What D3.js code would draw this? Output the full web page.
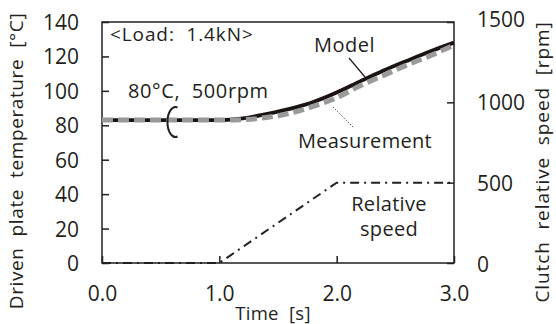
<!DOCTYPE html>
<html><head><meta charset="utf-8">
<script src="https://cdn.jsdelivr.net/npm/d3@7"></script>
<style>
body{margin:0;background:#fff;}
text{font-family:"Open Sans",sans-serif;fill:#231f20;}
</style></head>
<body><svg id="c" width="556" height="324"></svg>
<script>
const modelTime = [0, 0.5, 1.0, 1.2, 1.4, 1.6, 1.8, 2.0, 2.2, 2.4, 2.6, 2.8, 3.0];
const modelTemp = [83, 83, 83, 84, 86.5, 89.5, 93.5, 99, 105.5, 111.8, 117.5, 123, 128];
const measTime = [0, 0.5, 1.0, 1.2, 1.4, 1.6, 1.8, 2.0, 2.2, 2.4, 2.6, 2.8, 3.0];
const measTemp = [83, 83, 83, 83.3, 84.5, 87, 91, 96, 103, 109, 115, 120.5, 126.5];
const speedTime = [0, 1.0, 2.0, 3.0];
const speedRpm = [0, 0, 500, 500];
const xTicks = [0, 1, 2, 3];
const tempTicks = [0, 20, 40, 60, 80, 100, 120, 140];
const rpmTicks = [0, 500, 1000, 1500];

const S = "\u00A0";
const svg = d3.select("#c");
const L = 102, R = 454, T = 22, B = 263;
const x = d3.scaleLinear().domain([0, 3]).range([L, R]);
const yT = d3.scaleLinear().domain([0, 140]).range([B, T]);
const yR = d3.scaleLinear().domain([0, 1500]).range([B, T]);

// frame
svg.append("rect").attr("x", L).attr("y", T).attr("width", R - L).attr("height", B - T)
  .attr("fill", "none").attr("stroke", "#231f20").attr("stroke-width", 1.5);

// axes
const axL = svg.append("g").attr("transform", `translate(${L},0)`)
  .call(d3.axisRight(yT).tickValues(tempTicks).tickSize(7).tickFormat(d => d));
axL.select(".domain").remove();
axL.selectAll("line").attr("stroke", "#231f20").attr("stroke-width", 1.5);
axL.selectAll("text").attr("x", -23).attr("text-anchor", "end").style("font-size", "21px").attr("fill", "#231f20").attr("dy", "0.36em");

const axR = svg.append("g").attr("transform", `translate(${R},0)`)
  .call(d3.axisLeft(yR).tickValues(rpmTicks).tickSize(7).tickFormat(d => d));
axR.select(".domain").remove();
axR.selectAll("line").attr("stroke", "#231f20").attr("stroke-width", 1.5);
axR.selectAll("text").attr("x", 23).attr("text-anchor", "start").style("font-size", "21px").attr("fill", "#231f20").attr("dy", "0.36em");
axR.selectAll(".tick").filter(d => d === 1500).select("text").attr("dy", "0.2em");
axR.selectAll(".tick").filter(d => d === 0).select("text").attr("dy", "0.4em");

const axB = svg.append("g").attr("transform", `translate(0,${B})`)
  .call(d3.axisTop(x).tickValues(xTicks).tickSize(7).tickFormat(d3.format(".1f")));
axB.select(".domain").remove();
axB.selectAll("line").attr("stroke", "#231f20").attr("stroke-width", 1.5);
axB.selectAll("text").attr("y", 38).attr("dy", 0).style("font-size", "21px").attr("fill", "#231f20");

// lines
const line = d3.line().curve(d3.curveMonotoneX);
svg.append("path").attr("d", line(modelTime.map((t, i) => [x(t), yT(modelTemp[i])])))
  .attr("fill", "none").attr("stroke", "#1a1311").attr("stroke-width", 3.8);
svg.append("path").attr("d", line(measTime.map((t, i) => [x(t), yT(measTemp[i])])))
  .attr("fill", "none").attr("stroke", "#9a9a9a").attr("stroke-width", 5)
  .attr("stroke-dasharray", "11,5");
svg.append("path").attr("d", d3.line()(speedTime.map((t, i) => [x(t), yR(speedRpm[i])])))
  .attr("fill", "none").attr("stroke", "#231f20").attr("stroke-width", 2)
  .attr("stroke-dasharray", "9,5,2,5");

// annotations
const txt = (s, px, py, size, anchor, ls) => svg.append("text").attr("x", px).attr("y", py)
  .attr("text-anchor", anchor || "start").style("font-size", size + "px")
  .style("letter-spacing", (ls || 0) + "px").text(s);
txt("<Load:" + S + S + "1.4kN>", 110, 41, 19, "start", 0.9);
txt("Model", 314, 52, 20, "start", 0.5);
svg.append("line").attr("x1", 349).attr("y1", 58).attr("x2", 365).attr("y2", 77)
  .attr("stroke", "#231f20").attr("stroke-width", 1.3);
txt("80°C," + S + S + "500rpm", 128, 98, 20, "start", 0.6);
svg.append("path").attr("d", "M177.5,107.5 A8,15 0 1,0 177.5,136.5")
  .attr("fill", "none").attr("stroke", "#231f20").attr("stroke-width", 2);
txt("Measurement", 298, 148, 20, "start", 0.3);
svg.append("line").attr("x1", 333).attr("y1", 107).attr("x2", 354).attr("y2", 128)
  .attr("stroke", "#555").attr("stroke-width", 1).attr("stroke-dasharray", "1.5,1.5");
txt("Relative", 389, 211, 20, "middle", 0.3);
txt("speed", 389, 236, 20, "middle", 0.3);
txt("Time" + S + S + "[s]", 273, 320, 18.5, "middle", 0.3);

svg.append("text").attr("transform", "translate(23,161) rotate(-90)").attr("text-anchor", "middle")
  .style("font-size", "19px").style("letter-spacing", "0.6px")
  .text("Driven" + S + S + "plate" + S + S + "temperature" + S + S + "[°C]");
svg.append("text").attr("transform", "translate(549,162) rotate(-90)").attr("text-anchor", "middle")
  .style("font-size", "19px").style("letter-spacing", "0.9px")
  .text("Clutch" + S + S + "relative" + S + S + "speed" + S + S + "[rpm]");
</script></body></html>
